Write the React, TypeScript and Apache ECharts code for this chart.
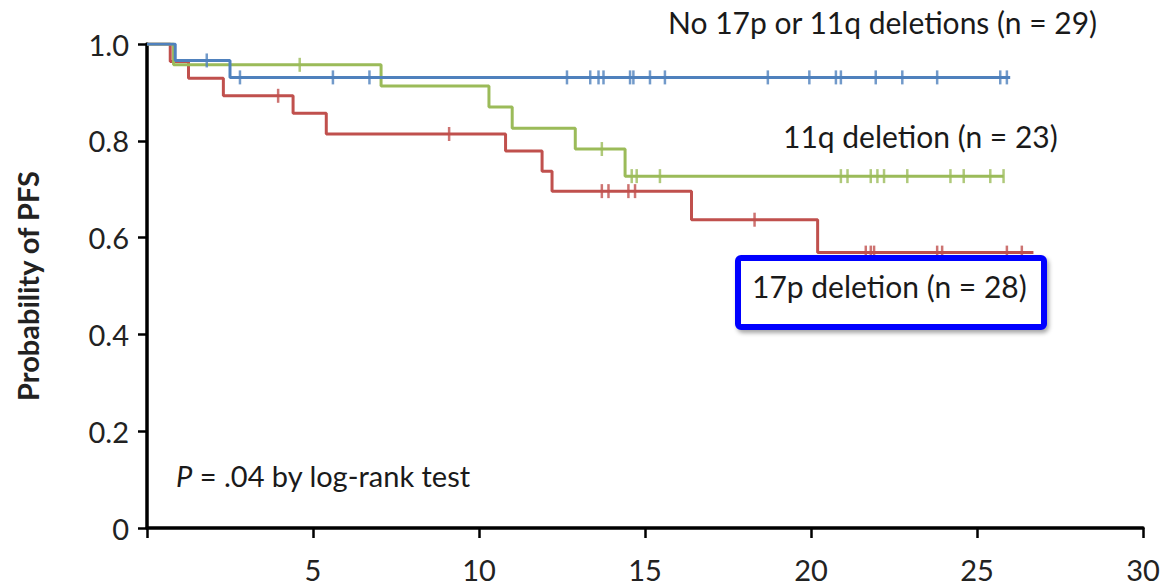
import React, { useEffect, useRef } from "react";
import * as echarts from "echarts";

// Kaplan–Meier step curves: event times and survival level after each step
const noDelTimes = [0, 0.85, 2.5, 26.0];
const noDelSurv = [1, 0.966, 0.931, 0.931];
const noDelCensor = [1.8, 2.8, 5.6, 6.7, 12.65, 13.35, 13.6, 13.75, 14.55, 14.65, 15.15, 15.6, 18.7, 19.95, 20.75, 20.9, 21.95, 22.75, 23.8, 25.7, 25.9];

const q11Times = [0, 0.8, 7.05, 10.3, 11.0, 12.9, 14.4, 25.8];
const q11Surv = [1, 0.957, 0.913, 0.87, 0.826, 0.783, 0.727, 0.727];
const q11Censor = [4.6, 13.7, 14.6, 14.75, 15.45, 20.9, 21.1, 21.8, 22.0, 22.2, 22.9, 24.2, 24.6, 25.4, 25.8];

const p17Times = [0, 0.7, 1.25, 2.3, 4.4, 5.4, 10.8, 11.9, 12.2, 16.4, 20.2, 26.7];
const p17Surv = [1, 0.964, 0.929, 0.893, 0.857, 0.814, 0.779, 0.737, 0.696, 0.637, 0.569, 0.569];
const p17Censor = [3.95, 9.1, 13.7, 13.9, 14.5, 14.7, 18.3, 21.65, 21.8, 21.9, 23.8, 23.95, 25.9, 26.35];

const FONT = "Lato, 'Open Sans', sans-serif";

// survival level of a step curve at time t
function levelAt(times: number[], surv: number[], t: number) {
  let s = surv[0];
  for (let i = 0; i < times.length; i++) if (times[i] <= t) s = surv[i];
  return s;
}

function curve(name: string, times: number[], surv: number[], censor: number[], color: string) {
  return [
    {
      name,
      type: "line",
      step: "end",
      data: times.map((t, i) => [t, surv[i]]),
      symbol: "none",
      lineStyle: { color, width: 3 },
      z: 3,
    },
    {
      name: name + "-censor",
      type: "scatter",
      data: censor.map((t) => [t, levelAt(times, surv, t)]),
      symbol: "rect",
      symbolSize: [2.5, 14],
      itemStyle: { color },
      z: 3,
    },
  ];
}

export default function App() {
  const ref = useRef<HTMLDivElement>(null);
  useEffect(() => {
    document.body.style.margin = "0";
    const chart = echarts.init(ref.current!, null, { renderer: "svg" });
    chart.setOption({
      animation: false,
      backgroundColor: "#ffffff",
      grid: { left: 147, right: 26, top: 44, bottom: 59 },
      xAxis: {
        type: "value",
        min: 0,
        max: 30,
        interval: 5,
        splitLine: { show: false },
        axisLine: { lineStyle: { color: "#000", width: 3.5 } },
        axisTick: { show: true, length: 10, lineStyle: { color: "#000", width: 2.5 } },
        axisLabel: {
          margin: 27,
          fontSize: 29,
          fontFamily: FONT,
          color: "#222",
          formatter: (v: number) => (v === 0 ? "" : String(v)),
        },
      },
      yAxis: {
        type: "value",
        min: 0,
        max: 1,
        interval: 0.2,
        name: "Probability of PFS",
        nameLocation: "middle",
        nameRotate: 90,
        nameGap: 105,
        nameTextStyle: { fontSize: 29, fontWeight: "bold", fontFamily: FONT, color: "#222" },
        splitLine: { show: false },
        axisLine: { show: true, lineStyle: { color: "#000", width: 3.5 } },
        axisTick: { show: true, length: 9, lineStyle: { color: "#000", width: 2.5 } },
        axisLabel: {
          margin: 18,
          fontSize: 29,
          fontFamily: FONT,
          color: "#222",
          formatter: (v: number) => (v === 0 ? "0" : v.toFixed(1)),
        },
      },
      series: [
        ...curve("17p deletion", p17Times, p17Surv, p17Censor, "#C0504D"),
        ...curve("11q deletion", q11Times, q11Surv, q11Censor, "#9BBB59"),
        ...curve("No 17p or 11q deletions", noDelTimes, noDelSurv, noDelCensor, "#4F81BD"),
      ],
      graphic: [
        {
          type: "text",
          left: 668,
          top: 7,
          style: { text: "No 17p or 11q deletions (n = 29)", font: `30px ${FONT}`, fill: "#1a1a1a" },
        },
        {
          type: "text",
          left: 783,
          top: 121,
          style: { text: "11q deletion (n = 23)", font: `30px ${FONT}`, fill: "#1a1a1a" },
        },
        {
          type: "rect",
          shape: { x: 738, y: 258, width: 306, height: 69, r: 3 },
          style: {
            fill: "#fff",
            stroke: "#0000ff",
            lineWidth: 6,
            shadowBlur: 4,
            shadowOffsetX: 2,
            shadowOffsetY: 3,
            shadowColor: "rgba(0,0,0,0.35)",
          },
          z: 10,
        },
        {
          type: "text",
          left: 752,
          top: 271,
          z: 11,
          style: { text: "17p deletion (n = 28)", font: `30px ${FONT}`, fill: "#1a1a1a" },
        },
        {
          type: "text",
          left: 176,
          top: 461,
          style: {
            text: "{i|P} = .04 by log-rank test",
            font: `29px ${FONT}`,
            fill: "#1a1a1a",
            rich: { i: { fontStyle: "italic", fontSize: 29, fontFamily: FONT, fill: "#1a1a1a" } },
          },
        },
      ],
    });
    return () => chart.dispose();
  }, []);
  return <div ref={ref} style={{ position: "fixed", left: 0, top: 0, width: 1169, height: 587 }} />;
}
